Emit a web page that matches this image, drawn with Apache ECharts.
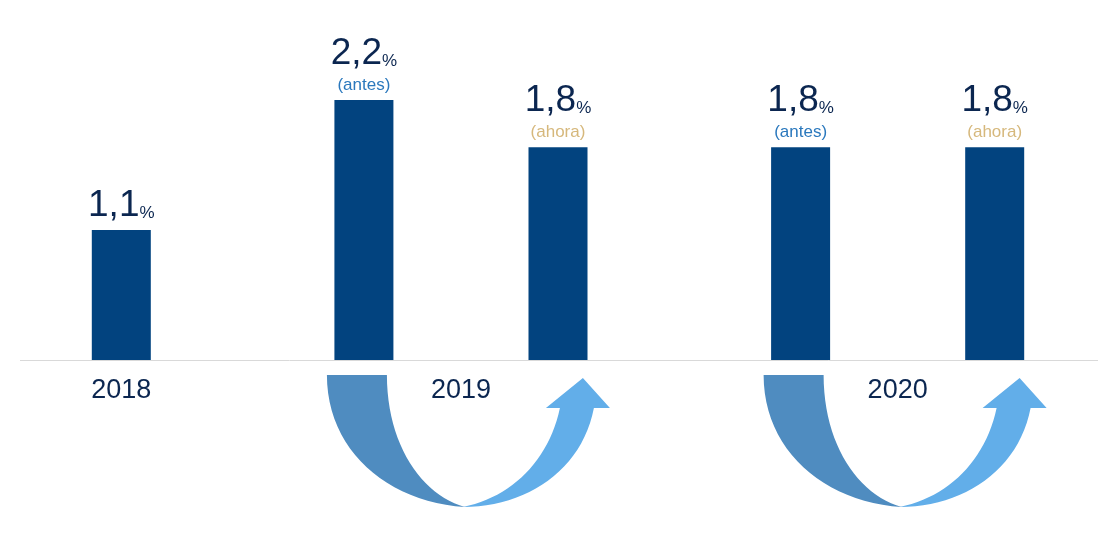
<!DOCTYPE html><html><head><meta charset="utf-8"><script src="https://cdn.jsdelivr.net/npm/echarts@6/dist/echarts.min.js"></script>
<style>html,body{margin:0;background:#fff}#c{width:1116px;height:536px}</style></head><body><div id="c"></div><script>
const categories=['2018','2019 antes','2019 ahora','2020 antes','2020 ahora'];
const values=[1.1,2.2,1.8,1.8,1.8];
const notes=['','(antes)','(ahora)','(antes)','(ahora)'];
const years=['2018','2019','2020'];
// layout slots (spacing of bars)
const slotIdx=[2,7,11,16,20], nSlots=23;
const axisCats=[],data=[];
for(let i=0;i<nSlots;i++){const k=slotIdx.indexOf(i);axisCats.push(k>=0?categories[k]:'_'+i);data.push(k>=0?values[k]:'-');}
const chart=echarts.init(document.getElementById('c'));
const fmt=p=>{const k=slotIdx.indexOf(p.dataIndex);const n=notes[k];const v=String(p.value).replace('.',',');
 const s='{v|'+v+'}{p|%}';if(!n)return s;return s+'\n'+(n==='(antes)'?'{a|'+n+'}':'{h|'+n+'}');};
chart.setOption({animation:false,
 grid:{left:-6,right:-16.5,top:100,bottom:176},
 xAxis:{type:'category',data:axisCats,axisLine:{show:false},axisTick:{show:false},axisLabel:{show:false}},
 yAxis:{type:'value',min:0,max:2.2,show:false,splitLine:{show:false}},
 series:[{type:'bar',data:data,barWidth:59,itemStyle:{color:'#02437f'},
  label:{show:true,position:'top',distance:4,formatter:fmt,align:'center',
   rich:{v:{fontFamily:'Liberation Sans',fontSize:37,color:'#0b2650',lineHeight:40},
    p:{fontFamily:'Liberation Sans',fontSize:17,color:'#0b2650',verticalAlign:'bottom',padding:[0,0,4,0]},
    a:{fontFamily:'Liberation Sans',fontSize:17,color:'#2a78bd',lineHeight:22,align:'center'},
    h:{fontFamily:'Liberation Sans',fontSize:17,color:'#d6b87c',lineHeight:22,align:'center'}}}}]
});
const px=k=>chart.convertToPixel({xAxisIndex:0,yAxisIndex:0},[slotIdx[k],0]);
const b=[0,1,2,3,4].map(px);
const base=b[0][1];
function bez(p0,p1,p2,p3,n){const o=[];for(let i=0;i<=n;i++){const t=i/n,u=1-t;
 o.push([u*u*u*p0[0]+3*u*u*t*p1[0]+3*u*t*t*p2[0]+t*t*t*p3[0],u*u*u*p0[1]+3*u*u*t*p1[1]+3*u*t*t*p2[1]+t*t*t*p3[1]]);}return o;}
const leftPts=[[0,0]].concat(bez([60,0],[60,70],[95,120],[138,132],24)).concat(bez([138,132],[60,127],[0,75],[0,0],24));
const rightPts=bez([136,132],[185,122],[222,85],[233,33],24).concat([[219,33],[256,3],[283,33],[267,33]]).concat(bez([267,33],[255,95],[200,132],[136,132],24));
const txt=(x,t)=>({type:'text',x:x,y:base+17,style:{text:t,fontFamily:'Liberation Sans',fontSize:27,fill:'#0b2650',align:'center'}});
const arrow=(x)=>({type:'group',x:x-37,y:base+15,children:[
 {type:'polygon',shape:{points:leftPts},style:{fill:'#4f8cc0'}},
 {type:'polygon',shape:{points:rightPts},style:{fill:'#62aee9'}}]});
chart.setOption({graphic:[
 {type:'line',shape:{x1:20,y1:base+0.5,x2:1098,y2:base+0.5},style:{stroke:'#d9d9d9',lineWidth:1}},
 txt(b[0][0],years[0]),txt((b[1][0]+b[2][0])/2,years[1]),txt((b[3][0]+b[4][0])/2,years[2]),arrow(b[1][0]),arrow(b[3][0])]});
</script></body></html>
